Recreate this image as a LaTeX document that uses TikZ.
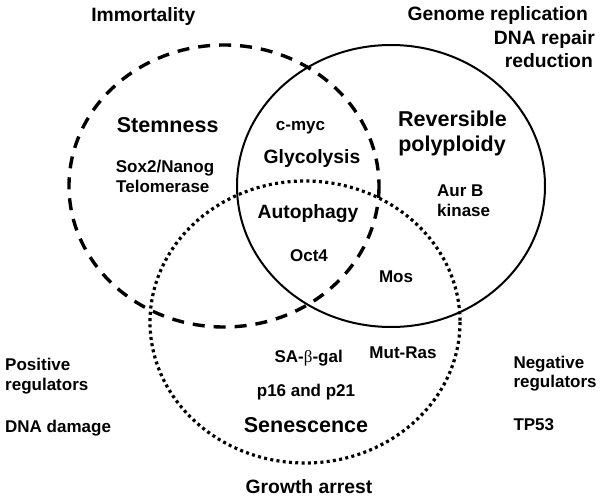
\documentclass[tikz,border=0pt]{standalone}
\usepackage{fontspec}
\setmainfont{Liberation Sans}
\newfontfamily\greekfont{Liberation Serif}
\tikzset{
  big/.style={font=\fontsize{21.5}{24}\selectfont\bfseries, inner sep=0},
  mid/.style={font=\fontsize{19.3}{22}\selectfont\bfseries, inner sep=0},
  small/.style={font=\fontsize{17}{20}\selectfont\bfseries, inner sep=0},
  stemset/.style={line width=3.4pt, dash pattern=on 12pt off 9pt},
  polyset/.style={line width=2pt},
  senset/.style={line width=3.2pt, dash pattern=on 3pt off 3.3pt}
}

\begin{document}
\begin{tikzpicture}[x=1pt,y=-1pt]
\useasboundingbox (0,0) rectangle (600,503);

% the three sets
\draw[stemset] (224,186) ellipse [x radius=155, y radius=141];
\draw[polyset] (391,186) ellipse [x radius=154, y radius=141];
\draw[senset]  (305,322) ellipse [x radius=155, y radius=141];

% outer labels
\node[mid, anchor=base] (immort) at (143.3,21.3) {Immortality};
\node[mid, anchor=base east] (genome) at (588,20.7) {Genome replication};
\node[mid, anchor=base east] (repair) at (595,44.3) {DNA repair};
\node[mid, anchor=base east] (reduct) at (593,67.3) {reduction};
\node[small, anchor=base west] (posreg) at (5,370.7) {Positive};
\node[small, anchor=base west] (posreg2) at (5,390) {regulators};
\node[small, anchor=base west] (dnadam) at (5,432.7) {DNA damage};
\node[small, anchor=base west] (negreg) at (513.3,368.3) {Negative};
\node[small, anchor=base west] (negreg2) at (513.3,387.3) {regulators};
\node[small, anchor=base west] (tp53) at (513.3,430) {TP53};
\node[mid, anchor=base] (growth) at (309,493) {Growth arrest};

% stemness
\node[big, anchor=base west] (stem) at (116.7,132) {Stemness};
\node[small, anchor=base west] (sox) at (115.7,172) {Sox2/Nanog};
\node[small, anchor=base west] (telo) at (116,192.7) {Telomerase};

% polyploidy
\node[big, anchor=base] (rev) at (452.5,126) {Reversible};
\node[big, anchor=base] (poly) at (452,151.7) {polyploidy};
\node[small, anchor=base west] (aurb) at (437,196.7) {Aur B};
\node[small, anchor=base west] (kin) at (437,216.7) {kinase};

% overlaps
\node[small, anchor=base] (myc) at (300.5,130) {c-myc};
\node[mid, anchor=base] (glyc) at (312,163) {Glycolysis};
\node[mid, anchor=base] (auto) at (308,218) {Autophagy};
\node[small, anchor=base] (oct) at (309,261) {Oct4};
\node[small, anchor=base] (mos) at (396,282.3) {Mos};

% senescence
\node[small, anchor=base] (ras) at (403,358.3) {Mut-Ras};
\node[small, anchor=base] (sagal) at (308.7,362) {SA-{\greekfont\mdseries β}-gal};
\node[small, anchor=base] (p16) at (306,396) {p16 and p21};
\node[big, anchor=base] (sen) at (306,432) {Senescence};

\end{tikzpicture}
\end{document}
